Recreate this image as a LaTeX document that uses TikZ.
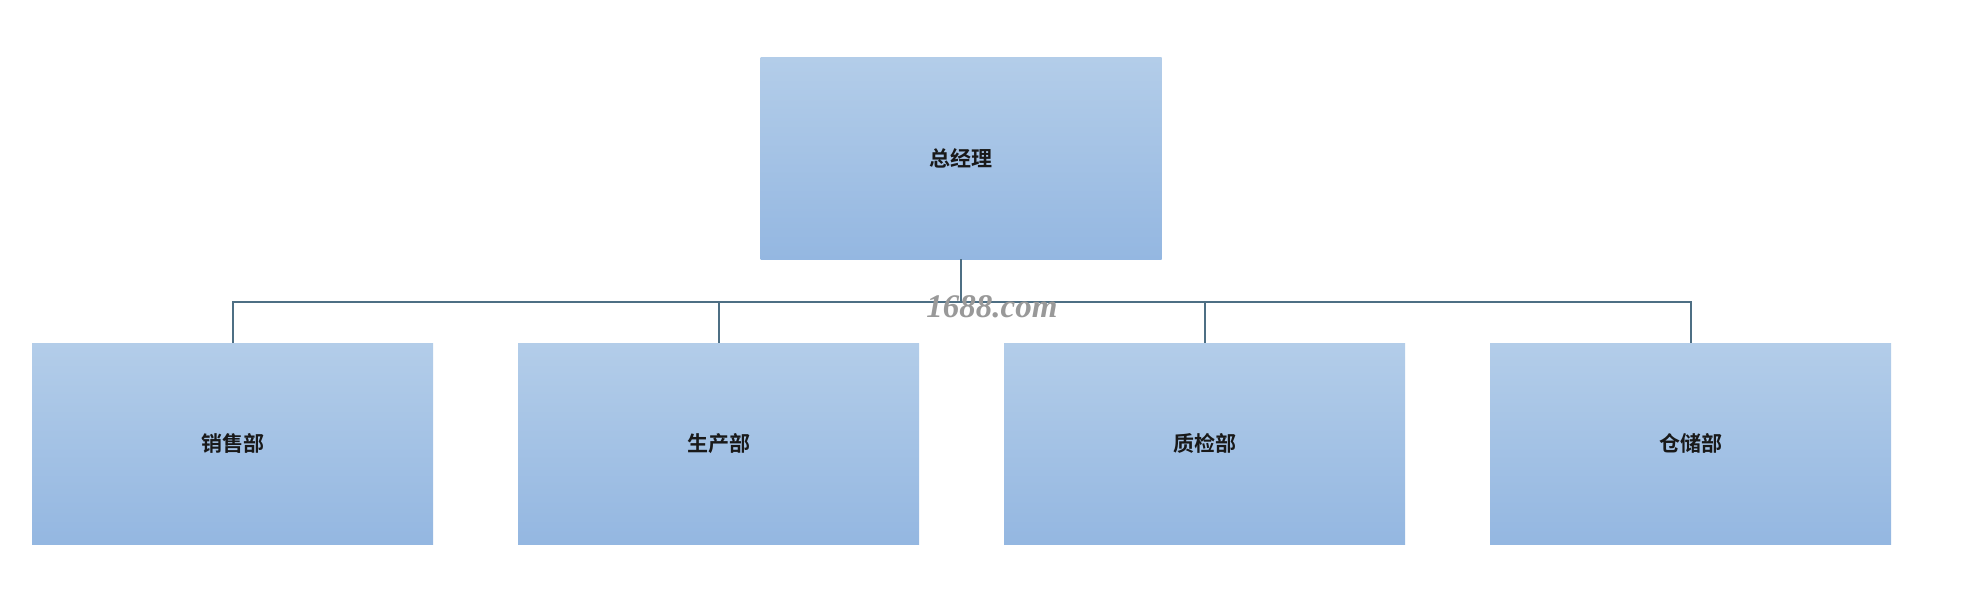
\documentclass[tikz,border=0pt]{standalone}
\usepackage{fontspec}
\newfontfamily\cjk{Noto Sans CJK SC}[BoldFont={* Bold}]
\newfontfamily\wmfont{Liberation Serif}
\definecolor{boxtop}{HTML}{B3CDE9}
\definecolor{boxbot}{HTML}{94B7E1}
\definecolor{linecol}{HTML}{4E6F84}
\tikzset{
  orgbox/.style={rectangle, inner sep=0pt, minimum width=401pt, minimum height=201pt,
    top color=boxtop, bottom color=boxbot, draw=none,
    font=\cjk\bfseries\fontsize{21pt}{24pt}\selectfont, text=black!90},
  conn/.style={draw=linecol, line width=2pt}
}
\begin{document}
\begin{tikzpicture}[x=1pt,y=-1pt]
\useasboundingbox (0,0) rectangle (1981,610);
\node[orgbox] (gm) at (961,158.5) {总经理};
\node[orgbox] (sales) at (232.5,443.5) {销售部};
\node[orgbox] (prod) at (718.5,443.5) {生产部};
\node[orgbox] (qc) at (1204.5,443.5) {质检部};
\node[orgbox] (store) at (1690.5,443.5) {仓储部};
\coordinate (bus) at (961,302);
\draw[conn] (gm.south) -- (bus);
\draw[conn] (sales.north) |- (bus) -| (store.north);
\draw[conn] (prod.north) -- (prod.north |- bus);
\draw[conn] (qc.north) -- (qc.north |- bus);
\node[font=\wmfont\itshape\bfseries\fontsize{33pt}{35pt}\selectfont, text=black!40] (wm) at (992,307) {1688.com};
\end{tikzpicture}
\end{document}
